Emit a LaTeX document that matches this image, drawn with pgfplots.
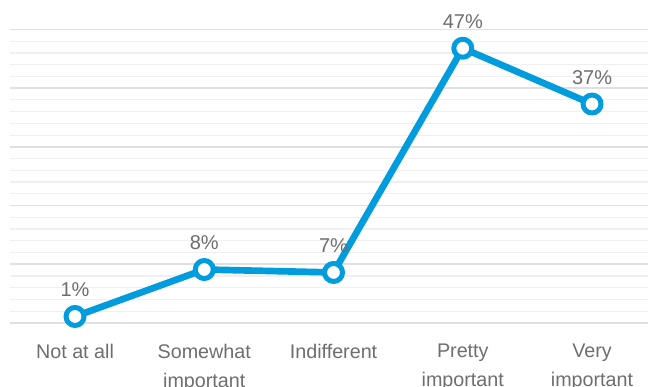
\documentclass[border=0pt]{standalone}
\usepackage{pgfplots}
\pgfplotsset{compat=1.18}
\usepackage{fontspec}
\setmainfont{Liberation Sans}
\definecolor{lineblue}{RGB}{0,156,222}
\definecolor{majgrid}{RGB}{224,224,224}
\definecolor{mingrid}{RGB}{240,240,240}
\definecolor{txtgray}{RGB}{110,110,110}
\begin{document}
\begin{tikzpicture}
\begin{axis}[
  scale only axis,
  width=478.5pt, height=220.1pt,
  xmin=-0.503, xmax=4.433,
  ymin=0, ymax=50,
  clip=false,
  axis line style={draw=none},
  tick style={draw=none},
  xtick={0,1,2,3,4},
  xticklabels={Not at all,Somewhat\\important,Indifferent,Pretty\\important,Very\\important},
  xticklabel style={align=center, anchor=north, inner sep=0pt, yshift=-15.4pt,
    font=\fontsize{14.8}{22}\selectfont, text=txtgray},
  ytick={0,10,20,30,40,50},
  minor ytick={2,4,6,8,12,14,16,18,22,24,26,28,32,34,36,38,42,44,46,48},
  yticklabels={},
  ymajorgrids, yminorgrids,
  major grid style={draw=majgrid, line width=1.2pt},
  minor grid style={draw=mingrid, line width=0.9pt},
  nodes near coords,
  point meta=explicit symbolic,
  every node near coord/.append style={anchor=base, yshift=15pt, inner sep=0pt,
    font=\fontsize{15}{18}\selectfont, text=txtgray},
]
\addplot[lineblue, line width=5pt, line join=round,
  mark=*, mark size=6.75pt, mark options={fill=white, draw=lineblue, line width=3.75pt}]
  coordinates {(0,1.1) [1\%] (1,9.1) [8\%] (2,8.6) [7\%] (3,46.8) [47\%] (4,37.3) [37\%]};
\end{axis}
\pgfresetboundingbox
\path[use as bounding box] ([xshift=-7.5pt,yshift=-48pt]current axis.south west) rectangle ([yshift=22.1pt]current axis.north east);
\end{tikzpicture}
\end{document}
